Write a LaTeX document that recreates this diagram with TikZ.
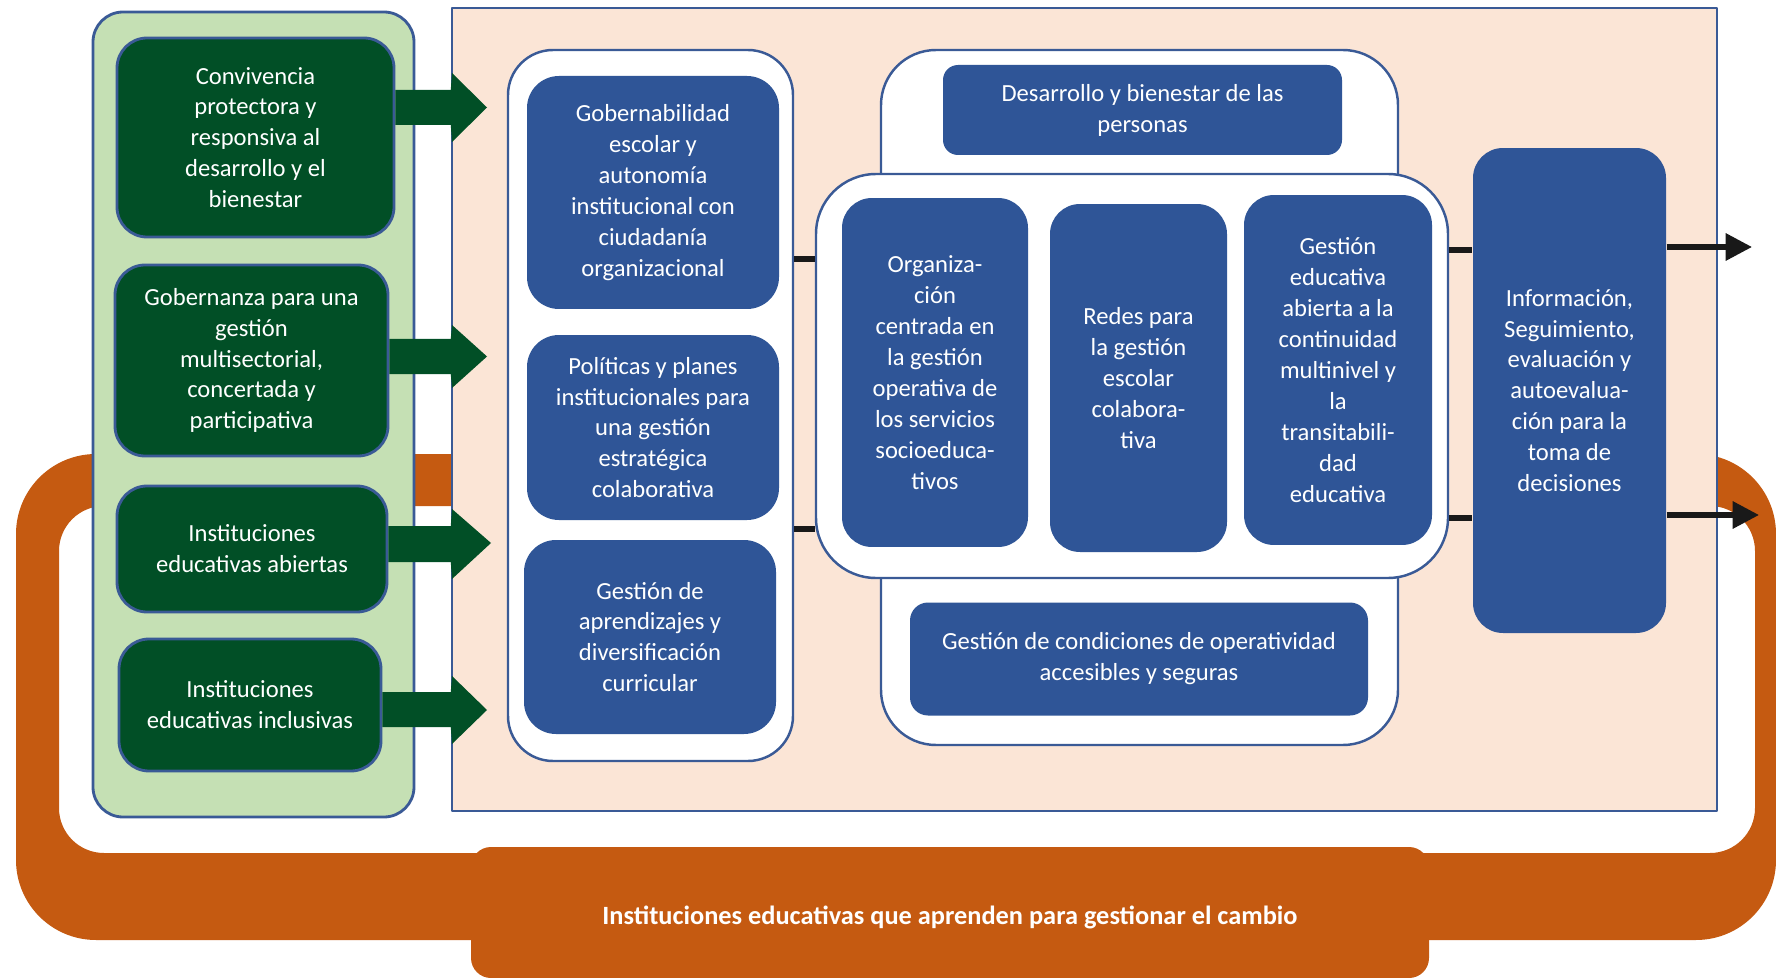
\documentclass[tikz,border=0pt]{standalone}
\usepackage{fontspec}
\setmainfont{Carlito}
\usepackage{xcolor}
\usetikzlibrary{arrows.meta,calc}

\definecolor{peach}{HTML}{FBE5D6}
\definecolor{leaf}{HTML}{C5E0B4}
\definecolor{forest}{HTML}{014F26}
\definecolor{navy}{HTML}{2F5597}
\definecolor{rust}{HTML}{C55A11}
\definecolor{edge}{HTML}{3A5A96}

\begin{document}
\begin{tikzpicture}[x=0.1mm,y=-0.1mm,>=Stealth,line join=round,
  txt/.style={font=\fontsize{7}{8.8}\selectfont,text=white,align=center,inner sep=0pt},
  gbox/.style={txt,draw=edge,line width=0.8pt,fill=forest,rounded corners=3mm},
  bbox/.style={txt,fill=navy,rounded corners=3.2mm},
  wbox/.style={draw=edge,line width=0.7pt,fill=white},
  garrow/.style={fill=forest},
  link/.style={line width=1.5pt,black!90}]
  \clip (0,0) rectangle (1776,978);
  % orange loop and its tab
  \fill[rust,even odd rule] [rounded corners=8mm] (16,454) rectangle (1776,940)
    [rounded corners=4.5mm] (59,506) rectangle (1755,853);
  \node[fill=rust,rounded corners=2mm,minimum width=95.8mm,minimum height=13.1mm] (cambio) at (950,912.5) {};
  \node[font=\fontsize{7.5}{9}\selectfont\bfseries,text=white,inner sep=0pt] (cambiotxt) at (950,917)
    {Instituciones educativas que aprenden para gestionar el cambio};
  % frames
  \node[draw=edge,line width=0.8pt,fill=leaf,rounded corners=3mm,
    minimum width=32.1mm,minimum height=80.5mm] (ejes) at (253.5,414.5) {};
  \node[draw=edge,line width=0.7pt,fill=peach,
    minimum width=126.5mm,minimum height=80.3mm] (field) at (1084.5,409.5) {};
  \node[wbox,rounded corners=4.5mm,minimum width=28.5mm,minimum height=71.1mm] (colA) at (650.5,405.5) {};
  \node[wbox,rounded corners=5.5mm,minimum width=51.7mm,minimum height=69.5mm] (colB) at (1139.5,397.5) {};
  \node[wbox,rounded corners=6mm,minimum width=63.2mm,minimum height=40.4mm] (colC) at (1132,376) {};
  % green axes
  \node[gbox,minimum width=27.7mm,minimum height=19.9mm] (conv) at (255.5,137.5)
    {Convivencia\\protectora y\\responsiva al\\desarrollo y el\\bienestar};
  \node[gbox,minimum width=27.3mm,minimum height=19.1mm] (gober) at (251.5,360.5)
    {Gobernanza para una\\gestión\\multisectorial,\\concertada y\\participativa};
  \node[gbox,minimum width=27mm,minimum height=12.6mm] (abiert) at (252,549)
    {Instituciones\\educativas abiertas};
  \node[gbox,minimum width=26.2mm,minimum height=13.2mm] (inclus) at (250,705)
    {Instituciones\\educativas inclusivas};
  % left column
  \node[bbox,minimum width=25.2mm,minimum height=23.3mm] (gobern) at (653,192.5)
    {Gobernabilidad\\escolar y\\autonomía\\institucional con\\ciudadanía\\organizacional};
  \node[bbox,minimum width=25.2mm,minimum height=18.5mm] (polit) at (653,427.5)
    {Políticas y planes\\institucionales para\\una gestión\\estratégica\\colaborativa};
  \node[bbox,minimum width=25.2mm,minimum height=19.4mm] (aprend) at (650,637)
    {Gestión de\\aprendizajes y\\diversificación\\curricular};
  % centre block
  \node[bbox,rounded corners=1.5mm,minimum width=39.9mm,minimum height=9mm] (desar) at (1142.5,110)
    {Desarrollo y bienestar de las\\personas};
  \node[bbox,rounded corners=1.8mm,minimum width=45.8mm,minimum height=11.3mm] (cond) at (1139,659)
    {Gestión de condiciones de operatividad\\accesibles y seguras};
  \node[bbox,rounded corners=3mm,minimum width=18.6mm,minimum height=34.9mm] (organ) at (935,372.5)
    {Organiza-\\ción\\centrada en\\la gestión\\operativa de\\los servicios\\socioeduca-\\tivos};
  \node[bbox,rounded corners=3mm,minimum width=17.7mm,minimum height=34.8mm] (redes) at (1138.5,378)
    {Redes para\\la gestión\\escolar\\colabora-\\tiva};
  \node[bbox,rounded corners=3mm,minimum width=18.8mm,minimum height=35mm] (contin) at (1338,370)
    {Gestión\\educativa\\abierta a la\\continuidad\\multinivel y\\la\\transitabili-\\dad\\educativa};
  \node[bbox,rounded corners=3mm,minimum width=19.3mm,minimum height=48.5mm] (info) at (1569.5,390.5)
    {Información,\\Seguimiento,\\evaluación y\\autoevalua-\\ción para la\\toma de\\decisiones};
  % green block arrows
  \fill[garrow] (conv.east |- 0,90) -- (field.west |- 0,90) -- (452,73) -- (487,107.5)
    -- (452,142) -- (field.west |- 0,125) -- (conv.east |- 0,125) -- cycle;
  \fill[garrow] (gober.east |- 0,339) -- (field.west |- 0,339) -- (452,325) -- (487,356.5)
    -- (452,388) -- (field.west |- 0,374) -- (gober.east |- 0,374) -- cycle;
  \fill[garrow] (abiert.east |- 0,526) -- (field.west |- 0,526) -- (452,509) -- (491,543)
    -- (452,579) -- (field.west |- 0,562) -- (abiert.east |- 0,562) -- cycle;
  \fill[garrow] (inclus.east |- 0,692) -- (field.west |- 0,692) -- (452,676) -- (487,710)
    -- (452,744) -- (field.west |- 0,727) -- (inclus.east |- 0,727) -- cycle;
  % black links
  \draw[link] (colA.east |- 0,259) -- (colC.west |- 0,259);
  \draw[link] (colA.east |- 0,529) -- (colC.west |- 0,529);
  \draw[link] (colC.east |- 0,250) -- (info.west |- 0,250);
  \draw[link] (colC.east |- 0,518) -- (info.west |- 0,518);
  \coordinate (out1) at (1752,247);
  \coordinate (out2) at (1759,515);
  \draw[link,-{Triangle[length=7.5pt,width=7.5pt]}] (info.east |- 0,247) -- (out1);
  \draw[link,-{Triangle[length=7.5pt,width=7.5pt]}] (info.east |- 0,515) -- (out2);
\end{tikzpicture}
\end{document}
